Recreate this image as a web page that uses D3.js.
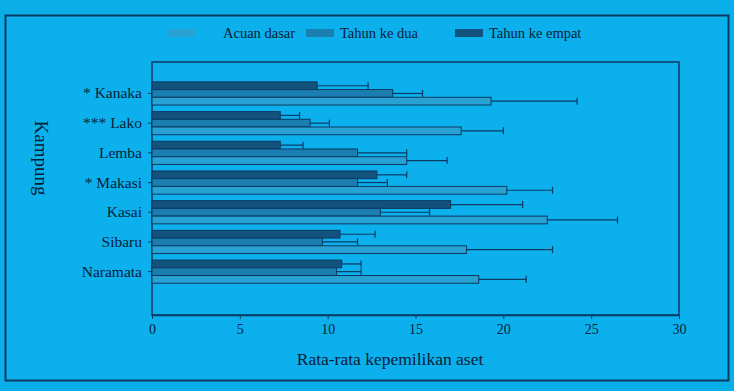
<!DOCTYPE html>
<html>
<head>
<meta charset="utf-8">
<script src="https://cdn.jsdelivr.net/npm/d3@7"></script>
<style>
  html, body { margin: 0; padding: 0; background: #0aaee9; }
  svg { display: block; }
  text { font-family: "Liberation Serif", "DejaVu Serif", serif; fill: #071d38; }
</style>
</head>
<body>
<svg id="chart" width="734" height="391"></svg>
<script>
// Villages (top to bottom)
const categories = ["* Kanaka", "*** Lako", "Lemba", "* Makasi", "Kasai", "Sibaru", "Naramata"];
// Series, in legend order
const seriesNames = ["Acuan dasar", "Tahun ke dua", "Tahun ke empat"];
const acuanDasar   = [19.3, 17.6, 14.5, 20.2, 22.5, 17.9, 18.6];
const acuanErr     = [4.9, 2.4, 2.3, 2.6, 4.0, 4.9, 2.7];
const tahunKeDua   = [13.7, 9.0, 11.7, 11.7, 13.0, 9.7, 10.5];
const keDuaErr     = [1.7, 1.1, 2.8, 1.7, 2.8, 2.0, 1.4];
const tahunKeEmpat = [9.4, 7.3, 7.3, 12.8, 17.0, 10.7, 10.8];
const keEmpatErr   = [2.9, 1.1, 1.3, 1.7, 4.1, 2.0, 1.1];
const xTicks = [0, 5, 10, 15, 20, 25, 30];

const seriesValues = [acuanDasar, tahunKeDua, tahunKeEmpat];
const seriesErrors = [acuanErr, keDuaErr, keEmpatErr];
const seriesColors = ["#27a2d2", "#1a7fb0", "#13527c"];
const outline = "#0b3a63";
const textColor = "#071d38";

const svg = d3.select("#chart");
const W = 734, H = 391;

// chart area background and frame
svg.append("rect").attr("x", 0).attr("y", 0).attr("width", W).attr("height", H).attr("fill", "#0aaee9");
svg.append("rect").attr("x", 5.5).attr("y", 15.5).attr("width", 723).attr("height", 365)
  .attr("fill", "#0bb0ec").attr("stroke", "#0b3a63").attr("stroke-width", 2);

const plot = { left: 152, right: 679, top: 62, bottom: 315 };

const x = d3.scaleLinear().domain([0, 30]).range([plot.left, plot.right]);
const y = d3.scaleBand().domain(categories).range([78.6, 286.5]).paddingInner(0.22).paddingOuter(0.11);
// within a group the last series is drawn on top
const drawOrder = [2, 1, 0];
const ySub = d3.scaleBand().domain(drawOrder).range([0, y.bandwidth()]);

// plot border
svg.append("rect").attr("x", plot.left).attr("y", plot.top)
  .attr("width", plot.right - plot.left).attr("height", plot.bottom - plot.top)
  .attr("fill", "none").attr("stroke", "#0b3a63").attr("stroke-width", 1.5);

// bars
const groups = svg.append("g").selectAll("g").data(categories).join("g")
  .attr("transform", d => `translate(0,${y(d)})`);

drawOrder.forEach(s => {
  groups.append("rect")
    .attr("x", x(0))
    .attr("y", ySub(s))
    .attr("width", (d, i) => x(seriesValues[s][i]) - x(0))
    .attr("height", ySub.bandwidth())
    .attr("fill", seriesColors[s])
    .attr("stroke", outline)
    .attr("stroke-width", 1);
});

// error bars (plus side)
drawOrder.forEach(s => {
  const eg = groups.append("g").attr("stroke", outline).attr("stroke-width", 1.2);
  eg.append("line")
    .attr("x1", (d, i) => x(seriesValues[s][i]))
    .attr("x2", (d, i) => x(seriesValues[s][i] + seriesErrors[s][i]))
    .attr("y1", ySub(s) + ySub.bandwidth() / 2)
    .attr("y2", ySub(s) + ySub.bandwidth() / 2);
  eg.append("line")
    .attr("x1", (d, i) => x(seriesValues[s][i] + seriesErrors[s][i]))
    .attr("x2", (d, i) => x(seriesValues[s][i] + seriesErrors[s][i]))
    .attr("y1", ySub(s) + ySub.bandwidth() / 2 - 3.5)
    .attr("y2", ySub(s) + ySub.bandwidth() / 2 + 3.5);
});

// x axis
const xAxis = svg.append("g").attr("transform", `translate(0,${plot.bottom})`)
  .call(d3.axisBottom(x).tickValues(xTicks).tickSize(4).tickSizeOuter(0).tickPadding(5));
xAxis.select(".domain").attr("stroke", "#0b3a63").attr("stroke-width", 1.5);
xAxis.selectAll(".tick line").attr("stroke", "#0b3a63");
xAxis.selectAll("text").attr("font-size", 14).attr("fill", textColor)
  .attr("font-family", "Liberation Serif, serif");

// y axis
const yAxis = svg.append("g").attr("transform", `translate(${plot.left},0)`)
  .call(d3.axisLeft(y).tickSize(4).tickSizeOuter(0).tickPadding(6));
yAxis.select(".domain").remove();
yAxis.selectAll(".tick line").attr("stroke", "#0b3a63");
yAxis.selectAll("text").attr("font-size", 15.5).attr("fill", textColor)
  .attr("font-family", "Liberation Serif, serif");

// axis titles
svg.append("text").attr("x", 390).attr("y", 365).attr("text-anchor", "middle")
  .attr("font-size", 17.5).text("Rata-rata kepemilikan aset");
svg.append("text").attr("transform", "translate(35,158) rotate(90)")
  .attr("text-anchor", "middle").attr("font-size", 19).text("Kampung");

// legend
const legendX = [157, 306, 455];
const legend = svg.append("g").selectAll("g").data(seriesNames).join("g")
  .attr("transform", (d, i) => `translate(${legendX[i]},33)`);
legend.append("rect").attr("x", (d, i) => i === 0 ? 10 : 0).attr("y", -4)
  .attr("width", 28).attr("height", 8)
  .attr("fill", (d, i) => seriesColors[i]);
legend.append("text").attr("x", (d, i) => i === 0 ? 66 : 34).attr("y", 5)
  .attr("font-size", 14.5).text(d => d);
</script>
</body>
</html>
